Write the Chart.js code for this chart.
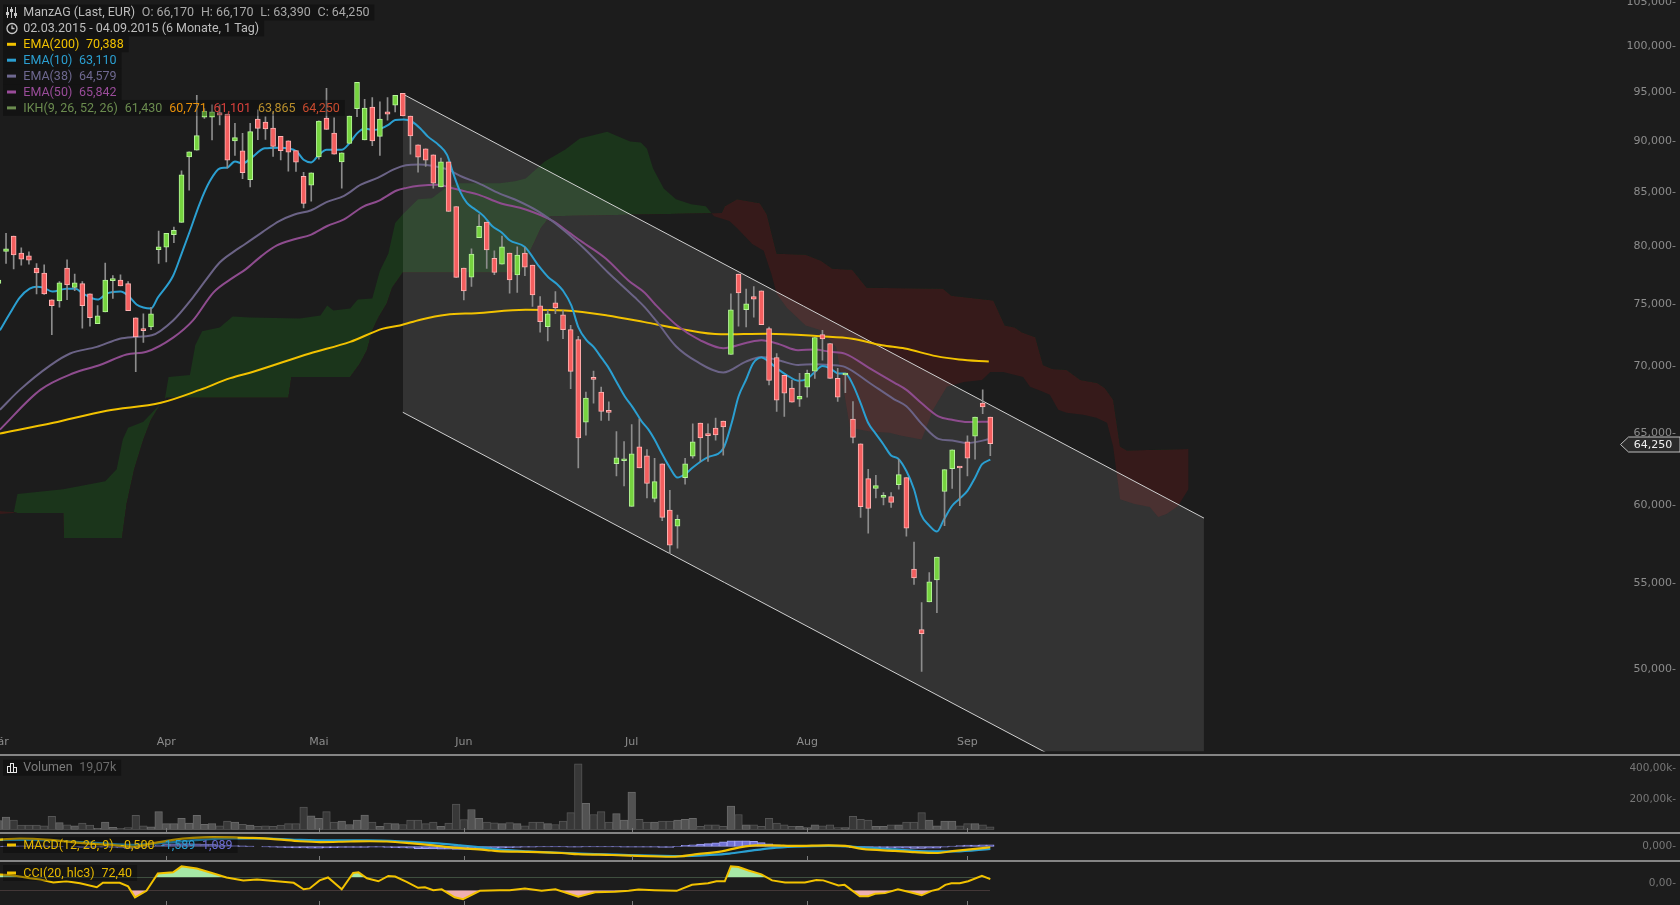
<!DOCTYPE html>
<html><head><meta charset="utf-8">
<script src="https://cdn.jsdelivr.net/npm/chart.js@4.4.0/dist/chart.umd.min.js"></script>
<style>
html,body{margin:0;padding:0;background:#1c1c1c;width:1680px;height:905px;overflow:hidden}
canvas{position:absolute;left:0}
.sep{position:absolute;left:0;width:1680px;height:2px;background:#858585}
</style></head><body>
<canvas id="main" width="1680" height="754" style="top:0"></canvas>
<div class="sep" style="top:754px"></div>
<canvas id="vol" width="1680" height="76" style="top:756px"></canvas>
<div class="sep" style="top:832px"></div>
<canvas id="macd" width="1680" height="26" style="top:834px"></canvas>
<div class="sep" style="top:860px"></div>
<canvas id="cci" width="1680" height="43" style="top:862px"></canvas>
<script>
// ---------- data ----------
const opens = [76.79,79.56,80.95,79.42,79.18,78.11,77.68,75.40,75.31,78.11,76.45,76.77,75.90,73.42,74.40,77.02,77.08,76.77,73.91,72.94,73.15,79.73,79.94,81.07,82.18,88.40,89.05,92.40,92.40,92.87,92.70,89.98,88.99,86.18,92.20,91.89,91.28,90.43,89.98,89.02,86.50,85.66,88.40,92.30,90.78,87.91,89.74,93.28,90.08,93.42,90.43,92.94,93.62,94.87,92.51,89.58,89.18,88.59,85.48,87.91,83.65,78.11,77.33,80.80,82.21,78.97,78.45,79.42,77.51,79.42,78.37,74.90,73.17,75.15,74.16,72.94,72.13,65.81,69.11,68.04,66.62,62.83,63.04,59.92,64.03,63.39,60.45,62.83,59.67,58.61,61.87,63.36,65.74,64.92,65.38,65.88,70.95,77.59,74.57,75.67,76.15,73.02,70.71,69.32,68.34,67.51,68.41,69.65,72.53,71.82,69.09,69.35,66.03,64.23,61.80,61.12,60.51,60.58,61.39,61.87,55.88,52.24,53.88,55.21,60.92,62.49,62.63,64.38,64.78,67.21,66.17];
const highs = [77.36,81.19,80.95,79.88,79.53,78.51,78.40,75.40,76.94,78.83,77.59,76.94,75.90,74.92,78.54,77.45,77.53,76.94,73.91,74.24,74.78,81.40,81.19,81.76,87.04,88.89,94.66,93.28,93.66,93.66,92.70,91.75,90.74,91.75,93.14,92.43,92.97,90.43,89.98,89.02,86.90,86.85,92.02,95.40,92.33,88.79,92.51,96.04,94.25,94.42,93.97,94.42,94.66,94.87,92.51,89.58,89.18,88.59,88.27,87.91,83.65,78.11,79.80,82.91,82.21,79.62,80.95,79.42,79.97,79.91,78.37,75.67,74.57,76.09,74.51,73.28,72.40,68.04,69.65,68.43,67.31,65.11,64.40,65.62,66.03,63.83,63.20,62.83,61.00,59.34,63.20,65.69,65.74,65.69,66.11,65.88,75.90,77.59,76.31,76.51,76.15,73.15,71.03,69.32,68.96,69.47,69.73,72.30,72.88,71.82,69.86,69.47,67.33,64.23,62.44,62.02,60.85,60.85,63.13,61.87,57.58,53.83,55.66,56.63,62.42,63.81,62.63,64.81,66.18,68.21,66.17];
const lows = [76.51,78.51,78.03,78.37,78.45,75.90,75.85,72.54,74.78,75.42,76.17,73.06,73.22,73.42,74.40,75.51,76.57,74.49,69.60,71.90,72.94,78.51,78.65,80.35,82.18,85.19,89.05,92.26,90.08,91.59,87.29,88.53,86.28,85.48,90.11,90.14,88.43,88.10,87.00,86.97,83.52,84.14,88.17,91.14,88.66,85.38,89.74,92.43,90.08,89.50,88.53,92.09,92.94,92.51,88.66,86.90,87.46,85.38,85.48,83.18,77.30,75.40,76.53,80.80,78.08,77.53,78.45,75.95,76.03,77.45,74.84,72.74,72.02,74.24,72.21,68.31,62.53,64.85,67.21,65.93,65.93,61.98,61.29,59.92,62.53,60.49,60.22,58.97,56.84,57.20,61.41,63.22,62.97,62.99,64.49,63.43,70.95,73.22,73.15,73.96,73.34,68.59,66.60,66.23,67.29,66.97,67.66,69.09,70.50,69.09,67.33,68.00,64.30,59.19,58.15,60.49,60.02,59.85,61.07,57.96,54.94,49.87,53.88,53.24,58.64,61.12,59.96,61.98,63.15,66.43,63.39];
const closes = [77.08,79.80,79.25,78.89,78.80,77.68,75.90,74.90,76.83,76.66,76.83,74.90,73.91,74.07,77.08,77.08,76.57,74.49,72.34,72.86,74.24,79.97,81.19,81.46,86.65,88.89,90.51,93.01,92.94,92.60,88.07,90.31,86.85,90.91,91.24,91.18,89.43,89.02,88.85,87.88,83.93,86.85,92.00,91.14,88.66,88.79,92.51,96.04,93.32,89.98,92.20,92.70,94.66,92.51,90.48,88.36,88.07,85.85,87.91,83.18,77.30,76.15,79.33,81.82,79.71,77.73,79.97,77.08,79.25,78.19,75.82,73.58,74.24,74.73,72.94,69.63,64.66,67.59,69.01,66.60,66.52,63.25,63.13,63.53,62.53,61.46,61.59,59.19,57.39,59.06,62.83,64.38,64.66,64.83,64.88,65.45,74.57,75.98,75.07,75.45,73.34,68.94,67.44,67.96,67.29,67.73,69.47,72.30,72.18,69.09,67.66,69.47,64.70,59.89,59.78,61.32,60.65,60.18,62.07,58.48,55.33,52.01,55.09,56.63,62.42,63.81,62.53,63.22,66.18,66.92,64.25];
const volumes = [60,82.6,62.2,29.6,29.6,29.6,25.5,86.6,45.9,31.6,25.5,43.8,29.6,9.2,50,15.3,9.2,13.3,92.8,25.5,19.4,117.2,39.8,39.8,74.4,43.8,92.8,35.7,39.8,25.5,56.1,50,35.7,29.6,21.4,25.5,21.4,29.6,39.8,39.8,147.8,90.7,74.4,117.2,50,56.1,33.6,62.2,94.8,50,21.4,43.8,39.8,33.6,62.2,62.2,39.8,50,21.4,43.8,166.2,66.2,131.5,74.4,50,45,39.8,45.9,39.8,25.5,50,50,39.8,33.6,56.1,111.1,429.1,172.3,98.9,117.2,50,105,62.2,245.7,68.3,50,50,56.1,56.1,62.2,68.3,74.4,21.4,31.6,31.6,21.4,153.9,98.9,31.6,31.6,21.4,74.4,43.8,31.6,21.4,21.4,13.3,31.6,25.5,31.6,13.3,13.3,86.6,68.3,62.2,21.4,21.4,31.6,31.6,50,50,111.1,62.2,25.5,56.1,56.1,25.5,39.8,39.8,31.6,19.07];

const ema10 = [[0.2,72.88],[1.5,74.26],[2.8,75.59],[4.1,76.34],[5.0,76.51],[5.9,76.43],[7.1,76.09],[8.9,76.34],[10.1,76.34],[11.1,75.92],[13.0,75.42],[14.2,75.92],[16.0,76.09],[17.0,75.75],[18.1,75.01],[19.0,74.76],[20.0,74.68],[20.9,75.59],[22.9,77.45],[24.0,79.36],[25.1,81.40],[26.4,83.95],[27.7,86.02],[29.0,87.26],[30.0,87.36],[31.0,87.94],[32.0,87.74],[33.0,88.2],[34.9,89.24],[36.7,89.31],[38.0,89.24],[39.1,88.92],[40.0,88.11],[41.0,87.85],[41.9,88.50],[43.0,89.09],[45.0,89.09],[46.0,89.74],[47.0,90.74],[48.0,91.24],[49.1,91.08],[50.2,91.24],[51.1,91.59],[52.0,92.09],[53.1,92.15],[54.2,91.92],[55.3,91.24],[56.3,90.41],[57.7,89.58],[58.8,88.60],[59.6,86.82],[60.5,85.07],[61.4,83.98],[62.5,83.37],[63.6,82.76],[64.7,81.85],[66.0,81.25],[67.0,80.56],[69.0,79.97],[70.8,78.31],[72.1,77.30],[73.2,76.74],[74.0,76.17],[75.1,74.92],[76.0,73.15],[77.1,72.08],[78.0,71.55],[79.1,70.64],[79.9,69.98],[81.0,68.83],[82.1,67.71],[83.2,66.84],[84.3,65.86],[85.2,65.26],[86.0,64.54],[86.9,63.60],[88.0,62.56],[89.0,61.87],[90.0,62.10],[91.0,62.56],[92.0,62.97],[93.0,63.29],[95.0,63.90],[96.1,65.74],[97.0,67.71],[98.0,69.0],[98.9,70.24],[100.0,70.71],[101.0,70.37],[102.2,69.78],[103.5,69.27],[104.8,68.91],[105.9,69.01],[106.9,69.52],[108.0,70.04],[109.0,69.86],[110.1,69.47],[111.0,69.47],[112.0,68.59],[113.0,67.21],[114.0,65.74],[114.9,65.02],[116.0,64.19],[117.0,63.41],[117.9,63.20],[119.0,62.32],[120.0,61.07],[120.9,59.41],[122.0,58.65],[123.0,58.26],[123.9,59.03],[125.0,59.96],[125.9,60.40],[127.0,60.96],[128.0,61.86],[128.9,62.78],[130.0,63.11]];
const ema38 = [[0.2,66.72],[2.8,68.21],[6.8,70.10],[9.4,71.03],[12.9,71.55],[15.9,72.21],[17.7,72.34],[20.1,72.48],[22.9,73.69],[25.5,75.61],[27.3,77.17],[29.0,78.59],[30.8,79.53],[32.3,80.21],[34.6,81.3],[36.8,82.3],[38.8,82.91],[41.0,83.3],[43.0,84.05],[45.3,84.65],[47.5,85.7],[49.7,86.36],[51.9,87.2],[53.4,87.57],[55.1,87.65],[56.8,87.52],[59.0,87.13],[60.7,86.49],[62.9,85.86],[65.7,84.86],[67.7,84.30],[70.7,83.21],[73.7,81.70],[76.7,79.88],[79.9,77.73],[83.4,75.61],[84.7,74.79],[86.5,73.42],[88.8,71.6],[91.5,70.4],[95.0,69.54],[97.9,70.37],[100.0,70.76],[102.5,70.45],[104.8,70.12],[106.9,70.19],[109.0,70.12],[111.0,69.96],[114.1,68.77],[117.4,67.5],[119.0,66.97],[121.1,65.62],[123.2,64.59],[125.0,64.47],[127.0,64.30],[130.0,64.58]];
const ema50 = [[0.2,65.26],[5.5,68.21],[9.8,69.48],[13.3,70.12],[16.8,70.95],[19.4,71.16],[22.9,72.29],[25.5,73.69],[28.2,76.03],[30.8,77.30],[32.4,78.0],[34.5,79.18],[36.5,80.1],[38.8,80.65],[41.0,81.07],[43.1,81.85],[45.3,82.46],[47.7,83.6],[49.9,84.2],[52.2,85.15],[53.5,85.4],[55.1,85.6],[57.7,85.70],[59.4,85.38],[61.2,85.07],[62.9,84.76],[65.7,83.98],[69.1,83.37],[72.7,82.30],[74.8,81.25],[76.0,80.65],[79.6,78.95],[82.6,77.02],[84.7,76.0],[86.0,75.07],[88.9,73.3],[92.0,72.08],[95.0,71.45],[98.2,71.9],[100.0,72.08],[102.4,71.75],[104.8,71.29],[106.9,71.34],[109.0,71.16],[111.0,71.0],[114.1,69.9],[117.4,68.77],[119.0,68.21],[121.0,67.2],[123.2,66.23],[125.0,65.98],[127.0,65.82],[130.0,65.84]];
const ema200 = [[0.2,64.97],[7.2,65.76],[14.2,66.65],[21.3,67.24],[26.4,68.21],[30.4,69.11],[33.4,69.60],[40.8,71.03],[46.1,71.95],[50.4,73.02],[52.6,73.28],[55.3,73.75],[58.7,74.16],[62.6,74.29],[69.1,74.57],[74.3,74.51],[79.8,74.10],[84.7,73.55],[89.2,73.02],[94.7,72.56],[100.7,72.61],[107.8,72.40],[111.9,72.21],[115.8,71.68],[118.8,71.42],[122.9,70.82],[125.9,70.56],[129.8,70.39]];

const senkouA = [[0,59.41],[2,59.48],[2.5,60.74],[8.5,61.07],[14,61.61],[15.5,62.44],[16.3,64.54],[17,65.40],[19,65.84],[20.5,66.72],[21.8,67.46],[22.3,69.19],[25.1,69.35],[25.8,71.68],[26.7,72.80],[27.3,72.88],[29,73.12],[30.7,74.02],[33,73.94],[39.5,73.85],[42.2,74.10],[43.1,74.92],[43.9,74.51],[46.1,74.68],[47.1,75.42],[49,75.51],[50,77.88],[51.1,79.36],[52,82.12],[53,82.94],[55,84.33],[56.8,84.42],[58.5,85.35],[60.2,85.83],[65.7,85.83],[67.7,86.02],[69.1,86.30],[71.6,87.94],[74.3,89.12],[76.2,90.21],[79.8,90.91],[80.7,90.61],[82.8,89.91],[84.2,89.81],[85,89.21],[85.8,87.26],[87.2,85.35],[88.8,84.33],[90.8,83.86],[92.7,83.67],[93.8,82.75],[95.8,82.30],[96.8,81.67],[98.8,80.24],[100.3,79.62],[101.3,77.62],[102,75.92],[103.3,74.76],[105.8,73.28],[107.8,72.88],[109.8,71.53],[111,67.46],[111.6,65.40],[114.2,65.12],[116.8,65.04],[118.2,64.83],[121,64.54],[122.5,66.72],[124.3,68.44],[126.5,68.81],[128.9,68.96],[130,69.58],[131.7,69.58],[134.3,69.19],[135.2,68.44],[136.9,68.06],[137.8,67.84],[138.9,66.72],[140,66.50],[142.2,66.35],[143.9,66.13],[145.3,65.76],[146.1,64.04],[147,60.40],[148.9,60.07],[150.9,59.87],[152,59.21],[153.1,59.41],[154.6,59.94],[156,61.10]];
const senkouB = [[0,59.61],[2,59.54],[2.5,59.48],[8.5,59.48],[8.6,57.85],[16.2,57.85],[16.8,60.07],[17.8,62.44],[19,64.54],[20,65.98],[21.2,67.09],[22,67.61],[38,67.61],[38.4,69.19],[46.1,69.19],[47.4,70.27],[48.3,71.29],[49,72.88],[49.8,73.94],[50.9,75.09],[51.6,76.42],[53,77.73],[68.4,77.73],[69.7,79.62],[71.1,81.67],[72.3,82.75],[94.8,83.05],[95.2,83.67],[96.8,84.33],[99.8,83.95],[100.7,82.94],[102,79.36],[105.8,79.27],[107.8,78.74],[109.3,78.05],[111.9,77.96],[113.8,76.42],[123.8,76.34],[124.9,75.75],[130.4,75.34],[131.9,73.28],[133.2,73.12],[134.1,72.72],[135.9,72.32],[136.9,70.12],[138.1,69.81],[140,69.73],[141.8,68.96],[144,68.74],[145,68.36],[146.1,67.46],[147,64.04],[147.9,63.76],[156,63.87]];

const channelUpper = [[53,94.80],[158,59.14]];
const channelLower = [[53,66.53],[158,41.51]];

const macdLine = [[0.2,4.67],[2.8,5.39],[6.8,4.5],[11.1,2.28],[14.6,1.17],[17.7,-0.17],[20.3,2.28],[22.9,4.5],[25.5,5.78],[28.2,6.33],[30.8,6.17],[33.4,5.78],[36.5,4.83],[39.5,3.56],[42.2,3.0],[46.1,3.39],[48.7,3.56],[50.9,3.39],[53.9,2.28],[57,0.78],[59.6,-0.72],[61.4,-1.44],[64,-2.39],[65.4,-3.1],[69.4,-3.67],[73.8,-4.39],[76,-5.17],[80.4,-5.72],[84.7,-6.44],[88.7,-7.0],[91.3,-5.33],[94.8,-3.28],[97,-0.72],[99.2,0.78],[101.4,0.78],[104.4,0.39],[108.8,0.78],[111,0.39],[113.2,-1.61],[117.5,-2.94],[120.1,-3.83],[122.8,-4.39],[125.4,-2.94],[128,-1.61],[130,-0.5]];
const signalLine = [[0.2,4.5],[4.6,4.5],[8.9,3.56],[13.3,2.28],[17.7,1.17],[22.1,2.61],[26.4,4.5],[30.8,5.39],[35.2,5.39],[39.5,4.5],[43.9,4.11],[48.3,4.11],[52.6,3.56],[57,2.28],[60.5,0.78],[63.6,-0.72],[65.5,-2.0],[69.4,-3.28],[73.8,-4.22],[78.2,-5.17],[82.6,-5.72],[86.9,-6.28],[89.6,-6.44],[93.2,-5.72],[95.8,-4.78],[98.4,-2.94],[101.4,-1.06],[104.4,-0.17],[108.8,0.39],[113.2,-0.5],[117.5,-2.0],[121.9,-3.28],[125.4,-3.28],[130,-1.589]];
const macdHist = [0.2,0.3,0.4,0.4,0.4,0.4,0.4,0.3,0.2,0,-0.3,-0.6,-0.6,-0.5,-0.4,-0.6,-1.0,-1.3,-1.2,-0.5,0.3,1.0,1.6,1.8,1.9,1.9,1.8,1.7,1.6,1.2,0.9,0.7,0.5,0.3,0,-0.3,-0.5,-0.7,-0.8,-0.9,-1.0,-1.2,-1.1,-0.9,-0.8,-0.7,-0.7,-0.6,-0.6,-0.5,-0.4,-0.6,-0.8,-1.0,-1.2,-1.4,-1.5,-1.7,-1.8,-1.8,-1.9,-2.0,-1.9,-1.8,-1.6,-1.3,-1.0,-0.8,-0.6,-0.4,-0.4,-0.3,-0.3,-0.2,-0.3,-0.4,-0.4,-0.3,-0.3,-0.3,-0.3,-0.3,-0.4,-0.4,-0.4,-0.5,-0.5,-0.6,-0.6,0.2,0.8,1.2,1.6,1.9,2.5,3.2,3.8,3.9,3.9,3.5,2.6,1.8,1.2,0.8,0.6,0.5,0.5,0.4,0.4,0.3,0.2,-0.2,-0.8,-1.1,-1.0,-0.9,-0.9,-0.9,-1.0,-1.2,-1.3,-1.3,-1.2,-1.1,-0.5,0.3,0.6,0.9,1.0,1.1,1.089];
const cciLine = [[0.2,147],[1.5,137],[2.8,113],[4.1,85],[5.5,67],[7.2,21],[8.9,39],[10.7,7],[12.9,-55],[13.7,15],[15.9,15],[17.0,-41],[17.9,-213],[19.4,-111],[20.9,161],[22.9,179],[24.0,273],[26.0,239],[28.2,161],[29.9,99],[32.1,53],[33.9,67],[36.5,39],[38.7,15],[40.0,-87],[40.8,-73],[42.1,53],[43.2,99],[45.0,-87],[46.5,169],[47.2,179],[48.3,85],[49.8,39],[51.1,123],[52.0,113],[53.5,29],[55.0,-63],[55.9,-55],[57.0,-101],[58.1,-87],[59.8,-213],[60.9,-241],[63.1,-111],[65.7,-101],[67.0,-101],[69.0,-73],[71.2,-111],[73.0,-87],[76.0,-203],[78.2,-133],[80.8,-125],[82.6,-111],[83.9,-91],[86.0,-101],[88.9,-111],[90.9,-17],[93.0,7],[94.1,39],[95.2,39],[96.0,273],[97.0,263],[98.3,207],[100.0,147],[101.4,53],[103.1,21],[105.7,21],[107.2,57],[108.1,53],[110.1,-27],[110.9,-17],[112.9,-195],[114.0,-195],[114.9,-157],[116.2,-147],[117.9,-87],[119.5,-133],[121.0,-181],[122.3,-111],[123.2,-87],[124.1,-17],[124.9,7],[126.0,7],[127.1,40],[128.9,123],[130.0,72.4]];

const priceTicks = [50,55,60,65,70,75,80,85,90,95,100,105];
const volTicks = [200,400];
const macdTicks = [0];
const cciTicks = [0];
const monthLabels = ['Mär','Apr','Mai','Jun','Jul','Aug','Sep'];
const monthIdx = [0,22,42,61,83,106,127];
const lastClose = 64.25;

// ---------- helpers ----------
const fmt = (v,d) => v.toFixed(d).replace('.', ',');
const pts = a => a.map(p => ({x:p[0], y:p[1]}));
const up = closes.map((c,i) => c >= opens[i]);
const xAxis = () => ({type:'linear', min:0.2097, max:220.39, display:false, bounds:'data', offset:false, grid:{offset:false}});
const yAxis = (extra, tickArr, cb, size, color) => Object.assign({
  position:'right', bounds:'data', grid:{display:false}, border:{display:false},
  afterBuildTicks: s => { s.ticks = tickArr.map(v => ({value:v})); },
  afterFit: s => { s.width = 0; },
  ticks:{mirror:true, padding:-4, autoSkip:false, color:color, font:{family:'DejaVu Sans', size:size}, callback:cb}
}, extra);
const baseOpts = (scales) => ({responsive:false, animation:false, events:[], layout:{padding:0},
  plugins:{legend:{display:false}, tooltip:{enabled:false}}, scales});
const line = (data, color, w, order, extra) => Object.assign({type:'line', data:pts(data), borderColor:color, borderWidth:w,
  pointRadius:0, fill:false, order, cubicInterpolationMode:'monotone'}, extra||{});

function legendLine(ctx, y, segs){
  ctx.font = '12.5px Roboto'; ctx.textBaseline = 'middle'; ctx.textAlign='left';
  const gap = 6.8; let w = 0;
  segs.forEach((s,k) => { w += ctx.measureText(s.t).width + (k ? gap : 0); });
  ctx.fillStyle = 'rgba(0,0,0,0.32)';
  ctx.fillRect(3, y-8, 23.3 + w + 5 - 3, 16);
  let x = 23.3;
  segs.forEach(s => { ctx.fillStyle = s.c; ctx.fillText(s.t, x, y+0.5); x += ctx.measureText(s.t).width + gap; });
}
function dash(ctx, y, c){ ctx.fillStyle = c; ctx.fillRect(7, y-1.5, 9, 3); }
function monthTicks(chart){
  const ctx = chart.ctx, xs = chart.scales.x, h = chart.height;
  ctx.fillStyle = '#7a7a7a';
  monthIdx.forEach(m => { const px = Math.round(xs.getPixelForValue(m)); ctx.fillRect(px, h-4, 1, 4); });
}

// ---------- main chart ----------
const mainOverlay = {id:'mainOverlay', afterDraw(chart){
  const ctx = chart.ctx, xs = chart.scales.x, ys = chart.scales.y;
  ctx.save();
  ctx.font = '11px "DejaVu Sans"'; ctx.fillStyle = '#8c8c8c'; ctx.textAlign = 'center'; ctx.textBaseline = 'middle';
  monthIdx.forEach((m,k) => ctx.fillText(monthLabels[k], xs.getPixelForValue(m), 742));
  const L = [
    [{t:'ManzAG (Last, EUR)', c:'#bdbdbd'},{t:'O: 66,170', c:'#a8a8a8'},{t:'H: 66,170', c:'#a8a8a8'},{t:'L: 63,390', c:'#a8a8a8'},{t:'C: 64,250', c:'#a8a8a8'}],
    [{t:'02.03.2015 - 04.09.2015 (6 Monate, 1 Tag)', c:'#bdbdbd'}],
    [{t:'EMA(200)', c:'#f2c200'},{t:'70,388', c:'#f2c200'}],
    [{t:'EMA(10)', c:'#2b9fd1'},{t:'63,110', c:'#2b9fd1'}],
    [{t:'EMA(38)', c:'#6e6890'},{t:'64,579', c:'#6e6890'}],
    [{t:'EMA(50)', c:'#9a4c9a'},{t:'65,842', c:'#9a4c9a'}],
    [{t:'IKH(9, 26, 52, 26)', c:'#6b8c4f'},{t:'61,430', c:'#6b8c4f'},{t:'60,771', c:'#e8900a'},{t:'61,101', c:'#d8403c'},{t:'63,865', c:'#b98f2c'},{t:'64,250', c:'#c84a2e'}]
  ];
  const dashC = [null, null, '#f2c200', '#2b9fd1', '#6e6890', '#9a4c9a', '#6b8c4f'];
  L.forEach((segs,i) => {
    const y = 12.5 + 15.9*i;
    legendLine(ctx, y, segs);
    if (dashC[i]) dash(ctx, y, dashC[i]);
  });
  ctx.strokeStyle = '#c8c8c8'; ctx.fillStyle = '#c8c8c8'; ctx.lineWidth = 1;
  [7.5, 11.5, 15.5].forEach((x,k) => { ctx.beginPath(); ctx.moveTo(x, 7); ctx.lineTo(x, 18); ctx.stroke(); ctx.fillRect(x-1.5, [12,9,13][k], 3, 3); });
  ctx.beginPath(); ctx.arc(12, 28.5, 5, 0, Math.PI*2); ctx.lineWidth = 1.3; ctx.stroke();
  ctx.beginPath(); ctx.moveTo(12, 25.5); ctx.lineTo(12, 28.5); ctx.lineTo(14.5, 28.5); ctx.stroke();
  const py = Math.round(ys.getPixelForValue(lastClose)) + 0.5;
  ctx.beginPath(); ctx.moveTo(1620.5, py); ctx.lineTo(1628.5, py-7.5); ctx.lineTo(1680, py-7.5); ctx.lineTo(1680, py+7.5); ctx.lineTo(1628.5, py+7.5); ctx.closePath();
  ctx.fillStyle = '#2a2a2a'; ctx.fill(); ctx.strokeStyle = '#bdbdbd'; ctx.lineWidth = 1; ctx.stroke();
  ctx.font = '11px "DejaVu Sans"'; ctx.fillStyle = '#f0f0f0'; ctx.textAlign = 'center'; ctx.textBaseline = 'middle';
  ctx.fillText(fmt(lastClose,3), 1653, py+0.5);
  ctx.restore();
}};

new Chart(document.getElementById('main'), {
  type:'bar',
  data:{datasets:[
    {type:'line', data:pts(senkouB), borderWidth:0, borderColor:'rgba(0,0,0,0)', pointRadius:0, fill:false, order:100, tension:0},
    {type:'line', data:pts(senkouA), borderWidth:0, borderColor:'rgba(0,0,0,0)', pointRadius:0, fill:{target:0, above:'#1b351b', below:'#361a1a'}, order:99, tension:0},
    {type:'line', data:pts(channelLower), borderColor:'#cfcfcf', borderWidth:1, pointRadius:0, fill:false, order:90, tension:0},
    {type:'line', data:pts(channelUpper), borderColor:'#cfcfcf', borderWidth:1, pointRadius:0, fill:{target:2, above:'rgba(255,255,255,0.1)', below:'rgba(255,255,255,0.1)'}, order:89, tension:0},
    line(ema200, '#f2c200', 2, 50),
    line(ema50, '#8e4c8e', 2, 49),
    line(ema38, '#6b6386', 2, 48),
    line(ema10, '#2b9fd1', 2, 47),
    {data: lows.map((l,i) => ({x:i, y:[l, highs[i]]})), backgroundColor:'#8c8c8c', borderWidth:0, barThickness:1, grouped:false, order:10},
    {data: opens.map((o,i) => ({x:i, y:[Math.min(o,closes[i]), Math.max(o,closes[i])]})),
     backgroundColor: up.map(u => u ? '#76d33f' : '#f45f5f'), borderColor: up.map(u => u ? '#b6f59a' : '#ffb3b3'),
     borderWidth:1, borderSkipped:false, barThickness:5, minBarLength:2, grouped:false, order:5}
  ]},
  options: baseOpts({
    x: xAxis(),
    y: yAxis({type:'logarithmic', min:45.62, max:104.95}, priceTicks, v => fmt(v,3)+'-', 11, '#8c8c8c')
  }),
  plugins:[mainOverlay]
});

// ---------- volume ----------
new Chart(document.getElementById('vol'), {
  type:'bar',
  data:{datasets:[{data: volumes.map((v,i) => ({x:i, y:v})), backgroundColor: up.map(u => u ? '#525252' : '#383838'),
    borderColor: up.map(u => u ? '#6a6a6a' : '#555555'), borderWidth:1, borderSkipped:false, barThickness:7.6, grouped:false}]},
  options: baseOpts({x: xAxis(), y: yAxis({type:'linear', min:0, max:465}, volTicks, v => fmt(v,2)+'k-', 10.5, '#777777')}),
  plugins:[{id:'volOv', afterDraw(chart){
    const ctx = chart.ctx; ctx.save();
    legendLine(ctx, 11.7, [{t:'Volumen', c:'#7d7d7d'},{t:'19,07k', c:'#6a6a6a'}]);
    ctx.strokeStyle = '#e8e8e8'; ctx.lineWidth = 1;
    ctx.strokeRect(7.5, 10.5, 3, 6); ctx.strokeRect(10.5, 7.5, 3, 9); ctx.strokeRect(13.5, 11.5, 3, 5);
    monthTicks(chart); ctx.restore();
  }}]
});

// ---------- MACD ----------
new Chart(document.getElementById('macd'), {
  type:'bar',
  data:{datasets:[
    {data: macdHist.map((v,i) => ({x:i, y:v})), backgroundColor:'#7272d6', borderColor:'#a2a2f2', borderWidth:1, borderSkipped:false, barThickness:7.6, grouped:false, order:10},
    line(signalLine, '#2b9fd1', 2.2, 5),
    line(macdLine, '#f2c200', 2.2, 4)
  ]},
  options: baseOpts({x: xAxis(), y: yAxis({type:'linear', min:-7.56, max:6.89}, macdTicks, v => fmt(v,3)+'-', 10.5, '#777777')}),
  plugins:[{id:'macdOv', afterDraw(chart){
    const ctx = chart.ctx; ctx.save();
    legendLine(ctx, 11, [{t:'MACD(12, 26, 9)', c:'#e6b800'},{t:'-0,500', c:'#e6b800'},{t:'-1,589', c:'#2b9fd1'},{t:'1,089', c:'#6c6cd0'}]);
    dash(ctx, 11, '#f2c200');
    monthTicks(chart); ctx.restore();
  }}]
});

// ---------- CCI ----------
new Chart(document.getElementById('cci'), {
  type:'line',
  data:{datasets:[
    {data: pts(cciLine), borderWidth:0, borderColor:'rgba(0,0,0,0)', pointRadius:0, tension:0, fill:{target:{value:100}, above:'#a6e8a6', below:'rgba(0,0,0,0)'}, order:3},
    {data: pts(cciLine), borderWidth:0, borderColor:'rgba(0,0,0,0)', pointRadius:0, tension:0, fill:{target:{value:-100}, above:'rgba(0,0,0,0)', below:'#efb0b0'}, order:2},
    {data: pts(cciLine), borderColor:'#f2c200', borderWidth:2, pointRadius:0, tension:0, fill:false, order:1}
  ]},
  options: baseOpts({x: xAxis(), y: yAxis({type:'linear', min:-297, max:305}, cciTicks, v => fmt(v,2)+'-', 10.5, '#777777')}),
  plugins:[{id:'cciOv', afterDraw(chart){
    const ctx = chart.ctx; ctx.save();
    legendLine(ctx, 11, [{t:'CCI(20, hlc3)', c:'#e6b800'},{t:'72,40', c:'#e6b800'}]);
    dash(ctx, 11, '#f2c200');
    monthTicks(chart); ctx.restore();
  }}]
});
</script>
</body></html>
